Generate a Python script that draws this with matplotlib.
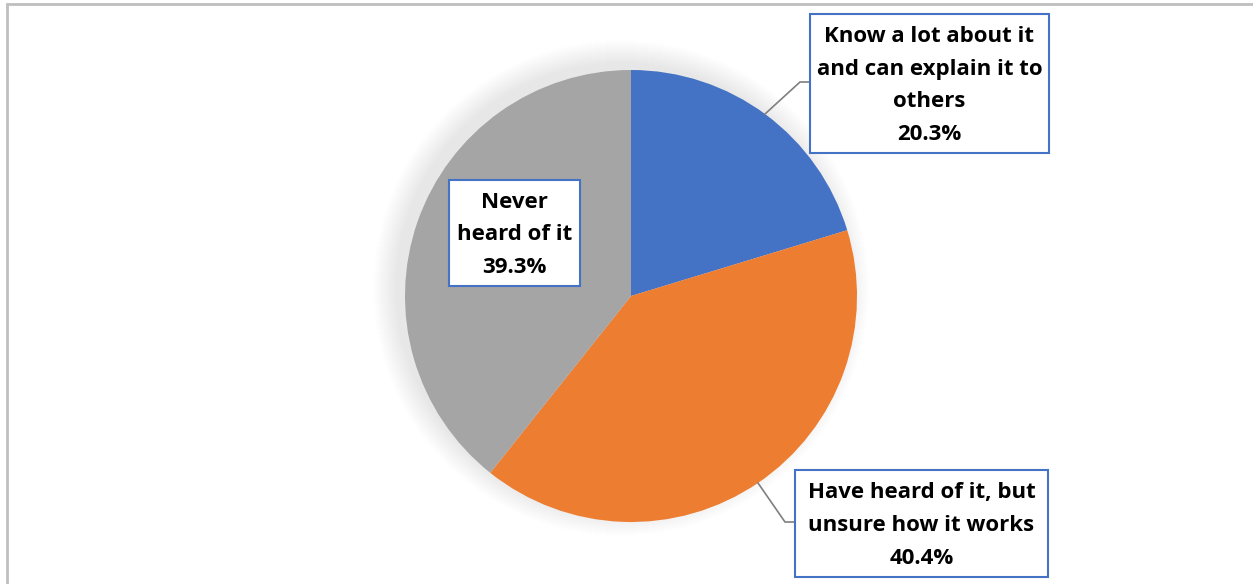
import matplotlib.pyplot as plt
import matplotlib.patches as mpatches
import numpy as np

# awareness shares, clockwise from 12 o'clock
categories = ["Know a lot about it\nand can explain it to\nothers",
              "Have heard of it, but\nunsure how it works",
              "Never\nheard of it"]
shares = [20.3, 40.4, 39.3]
colors = ["#4472C4", "#ED7D31", "#A5A5A5"]

W, H = 1253, 584
fig = plt.figure(figsize=(W / 100, H / 100), dpi=100)
ax = fig.add_axes([0, 0, 1, 1])
ax.set_xlim(0, W)
ax.set_ylim(0, H)
ax.set_aspect("equal")
ax.axis("off")

cx, cy, r = 631, H - 296, 226

# outer frame of the chart area
ax.add_patch(mpatches.Rectangle((7, -10), W + 20, H - 4 + 10, fill=False,
                                edgecolor="#BFBFBF", linewidth=2, zorder=0))

# soft shadow around the pie, leaning to the upper left
for i in range(24):
    rr = r + 22 - i
    ax.add_patch(mpatches.Circle((cx - 10, cy + 8), rr, facecolor="#000000",
                                 alpha=0.005, edgecolor="none", zorder=1))

wedges, _ = ax.pie(shares, colors=colors, startangle=90, counterclock=False,
                   center=(cx, cy), radius=r, frame=True,
                   wedgeprops=dict(linewidth=0, zorder=2))
ax.set_xlim(0, W)
ax.set_ylim(0, H)
ax.axis("off")

# label boxes: (x0, y0 top, width, height) in pixels from the top-left
boxes = [(810, 14, 239, 139), (795, 470, 253, 107), (449, 180, 131, 106)]
leaders = [[(765, 114), (800, 82), (810, 82)],
           [(758, 483), (785, 522), (795, 522)],
           None]

for name, val, (bx, by, bw, bh), lead in zip(categories, shares, boxes, leaders):
    if lead is not None:
        xs = [p[0] for p in lead]
        ys = [H - p[1] for p in lead]
        ax.plot(xs, ys, color="#7F7F7F", linewidth=1.2, zorder=3)
    ax.add_patch(mpatches.Rectangle((bx, H - by - bh), bw, bh, facecolor="white",
                                    edgecolor="#4472C4", linewidth=1.5, zorder=4))
    ax.text(bx + bw / 2, H - by - bh / 2 - 2, f"{name}\n{val:.1f}%",
            ha="center", va="center", fontsize=16, fontweight="bold",
            family="Open Sans", linespacing=1.72, color="black", zorder=5)

fig.savefig("out.png", dpi=100)
